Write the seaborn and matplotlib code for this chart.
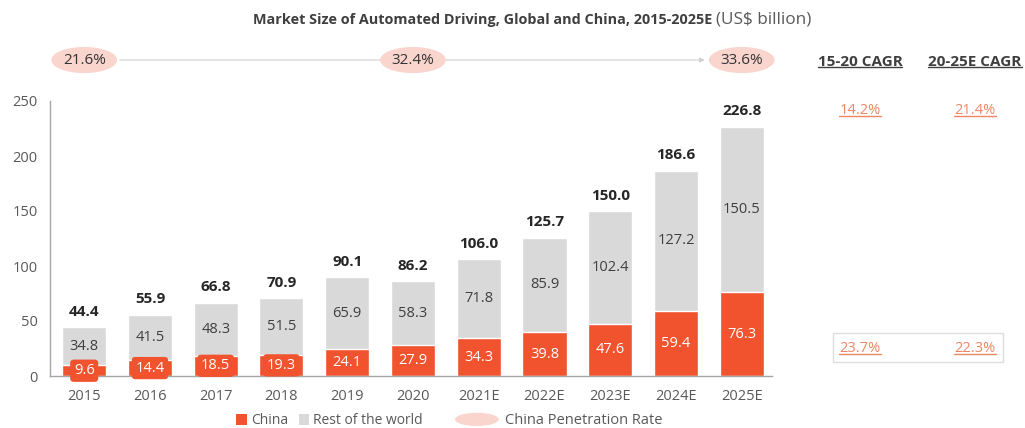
import matplotlib.pyplot as plt
import matplotlib.transforms as mtransforms
import pandas as pd
import seaborn as sns
from matplotlib.legend_handler import HandlerPatch
from matplotlib.lines import Line2D
from matplotlib.patches import Ellipse, Patch, Rectangle

sns.set_style("white")
plt.rcParams['font.family'] = ['Open Sans', 'DejaVu Sans']

# data
years = ["2015", "2016", "2017", "2018", "2019", "2020",
         "2021E", "2022E", "2023E", "2024E", "2025E"]
china = [9.6, 14.4, 18.5, 19.3, 24.1, 27.9, 34.3, 39.8, 47.6, 59.4, 76.3]
rest = [34.8, 41.5, 48.3, 51.5, 65.9, 58.3, 71.8, 85.9, 102.4, 127.2, 150.5]
totals = [44.4, 55.9, 66.8, 70.9, 90.1, 86.2, 106.0, 125.7, 150.0, 186.6, 226.8]

pen_years = ["2015", "2020", "2025E"]
pen_rates = ["21.6%", "32.4%", "33.6%"]

cagr_heads = ["15-20 CAGR", "20-25E CAGR"]
cagr_global = ["14.2%", "21.4%"]
cagr_china = ["23.7%", "22.3%"]

ORANGE = "#F0532D"
GREY = "#D9D9D9"
PINK = "#F9D5CD"
SALMON = "#EE8664"
DARK = "#3F3F3F"

df = pd.DataFrame({"year": years, "china": china, "rest": rest, "total": totals})
df["stack"] = df["china"] + df["rest"]

fig = plt.figure(figsize=(10.25, 4.28), dpi=100)
ax = fig.add_axes([50 / 1025, 52 / 428, 722 / 1025, 275 / 428])

sns.barplot(data=df, x="year", y="stack", color=GREY, width=0.67,
            saturation=1, errorbar=None, ax=ax)
sns.barplot(data=df, x="year", y="china", color=ORANGE, width=0.67,
            saturation=1, errorbar=None, ax=ax)

ax.set_xlim(-0.52, 10.46)
ax.set_ylim(0, 250)
ax.set_xlabel("")
ax.set_ylabel("")
sns.despine(ax=ax)
for s in ["left", "bottom"]:
    ax.spines[s].set_color("#A6A6A6")
    ax.spines[s].set_linewidth(1)
ax.tick_params(axis="both", length=0, labelsize=10.5, labelcolor="#595959")
ax.tick_params(axis="x", pad=9)
ax.tick_params(axis="y", pad=9)
ax.set_yticks([0, 50, 100, 150, 200, 250])

# value labels
for i, row in df.iterrows():
    ax.text(i, row["china"] / 2, f"{row['china']:.1f}", ha="center", va="center",
            color="white", fontsize=10.5,
            bbox=dict(boxstyle="round,pad=0.25", fc=ORANGE, ec="none"))
    ax.text(i, row["china"] + row["rest"] / 2, f"{row['rest']:.1f}", ha="center",
            va="center", color=DARK, fontsize=10.5)
    ax.annotate(f"{row['total']:.1f}", (i, row["stack"]), xytext=(0, 6),
                textcoords="offset points", ha="center", va="bottom",
                fontsize=11, fontweight="bold", color="#262626")

# penetration rate row
trans = mtransforms.blended_transform_factory(ax.transData, ax.transAxes)
ypen = 1.149
pos = [years.index(y) for y in pen_years]
ax.annotate("", xy=(pos[-1] - 0.52, ypen), xytext=(pos[0] + 0.5, ypen),
            xycoords=trans, textcoords=trans, annotation_clip=False,
            arrowprops=dict(arrowstyle="-|>", color="#D0D0D0", lw=0.8,
                            mutation_scale=7))
for p, lab in zip(pos, pen_rates):
    ax.add_patch(Ellipse((p, ypen), 1.0, 0.095, transform=trans, fc=PINK,
                         ec="none", clip_on=False, zorder=5))
    ax.text(p, ypen, lab, transform=trans, ha="center", va="center",
            fontsize=11, color="#333333", zorder=6)

# title
fig.text(712 / 1025, 1 - 20 / 428, "Market Size of Automated Driving, Global and China, 2015-2025E",
         ha="right", va="center", fontsize=10.35, fontweight="bold", color=DARK)
fig.text(716 / 1025, 1 - 20 / 428, "(US$ billion)", ha="left", va="center",
         fontsize=12.3, color="#595959")

# CAGR panel
col_x = [860 / 1025, 975 / 1025]
heads = []
vals = []
for cx, h, g, c in zip(col_x, cagr_heads, cagr_global, cagr_china):
    heads.append(fig.text(cx, 1 - 62 / 428, h, ha="center", va="center",
                          fontsize=11, fontweight="bold", color=DARK))
    vals.append(fig.text(cx, 1 - 110 / 428, g, ha="center", va="center",
                         fontsize=10.5, color=SALMON))
    vals.append(fig.text(cx, 1 - 348 / 428, c, ha="center", va="center",
                         fontsize=10.5, color=SALMON))
fig.add_artist(Rectangle((833 / 1025, 1 - 362 / 428), 170 / 1025, 29 / 428,
                         transform=fig.transFigure, fill=False, ec="#DDDDDD", lw=1))


# legend
class HandlerEllipse(HandlerPatch):
    def create_artists(self, legend, orig_handle, xdescent, ydescent, width,
                       height, fontsize, trans):
        p = Ellipse((0.5 * width - xdescent, 0.5 * height - ydescent),
                    width, height * 1.3)
        self.update_prop(p, orig_handle, legend)
        p.set_transform(trans)
        return [p]


class HandlerSquare(HandlerPatch):
    def create_artists(self, legend, orig_handle, xdescent, ydescent, width,
                       height, fontsize, trans):
        s = height * 1.1
        p = Rectangle((width - s - xdescent, -ydescent - 0.05 * height), s, s)
        self.update_prop(p, orig_handle, legend)
        p.set_transform(trans)
        return [p]


h_china = Patch(fc=ORANGE, ec="none", label="China")
h_rest = Patch(fc=GREY, ec="none", label="Rest of the world")
h_pen = Patch(fc=PINK, ec="none", label="China Penetration Rate")
leg_y = 1 - 421 / 428
leg1 = fig.legend(handles=[h_china, h_rest], loc="center left",
                  bbox_to_anchor=(236 / 1025, leg_y), ncol=2, frameon=False,
                  fontsize=10, handlelength=0.8, handletextpad=0.3, columnspacing=0.7,
                  borderpad=0, borderaxespad=0,
                  handler_map={h_china: HandlerSquare(), h_rest: HandlerSquare()})
leg2 = fig.legend(handles=[h_pen], loc="center left",
                  bbox_to_anchor=(455 / 1025, leg_y), frameon=False,
                  fontsize=10.5, handlelength=3.0, handletextpad=0.4,
                  borderpad=0, borderaxespad=0, handler_map={h_pen: HandlerEllipse()})
for leg in (leg1, leg2):
    for t in leg.get_texts():
        t.set_color("#595959")

# underlines
fig.canvas.draw()
r = fig.canvas.get_renderer()
for t, col in [(h, DARK) for h in heads] + [(v, SALMON) for v in vals]:
    bb = t.get_window_extent(r).transformed(fig.transFigure.inverted())
    fig.add_artist(Line2D([bb.x0, bb.x1], [bb.y0 + 0.004, bb.y0 + 0.004],
                          transform=fig.transFigure, color=col, lw=1))

fig.savefig("out.png", dpi=100)
